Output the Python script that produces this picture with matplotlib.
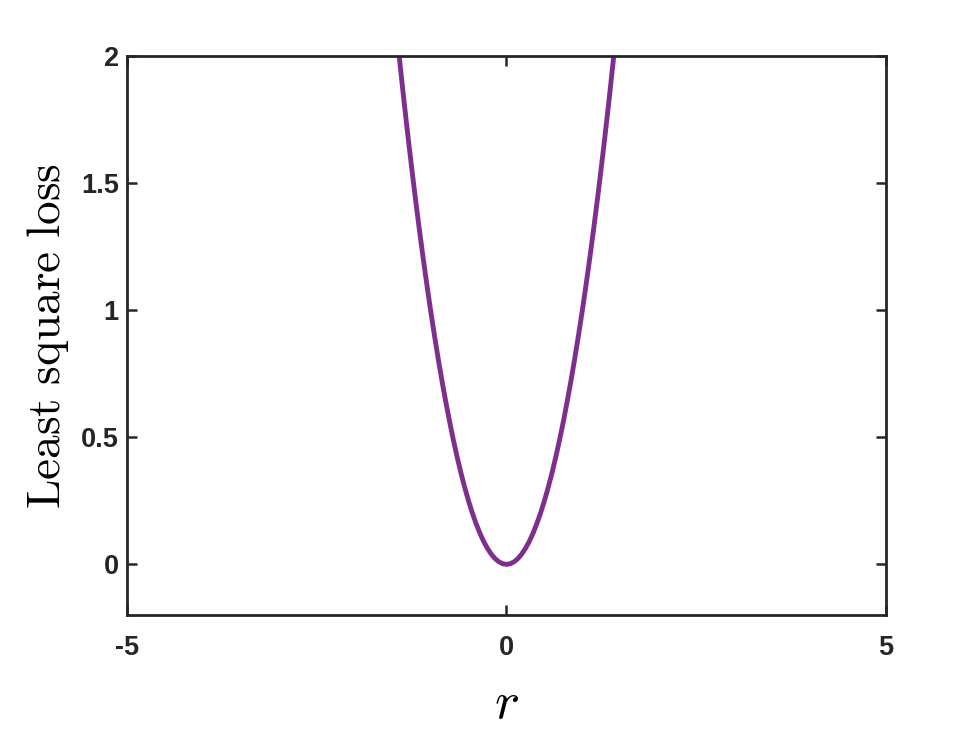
import numpy as np
import matplotlib.pyplot as plt

# values
r = [-1.414, -1.35, -1.3, -1.25, -1.2, -1.15, -1.1, -1.05, -1.0, -0.95, -0.9, -0.85,
     -0.8, -0.75, -0.7, -0.65, -0.6, -0.55, -0.5, -0.45, -0.4, -0.35, -0.3, -0.25,
     -0.2, -0.15, -0.1, -0.05, 0.0, 0.05, 0.1, 0.15, 0.2, 0.25, 0.3, 0.35, 0.4,
     0.45, 0.5, 0.55, 0.6, 0.65, 0.7, 0.75, 0.8, 0.85, 0.9, 0.95, 1.0, 1.05, 1.1,
     1.15, 1.2, 1.25, 1.3, 1.35, 1.414]
loss = [2.0, 1.8225, 1.69, 1.5625, 1.44, 1.3225, 1.21, 1.1025, 1.0, 0.9025, 0.81,
        0.7225, 0.64, 0.5625, 0.49, 0.4225, 0.36, 0.3025, 0.25, 0.2025, 0.16, 0.1225,
        0.09, 0.0625, 0.04, 0.0225, 0.01, 0.0025, 0.0, 0.0025, 0.01, 0.0225, 0.04,
        0.0625, 0.09, 0.1225, 0.16, 0.2025, 0.25, 0.3025, 0.36, 0.4225, 0.49, 0.5625,
        0.64, 0.7225, 0.81, 0.9025, 1.0, 1.1025, 1.21, 1.3225, 1.44, 1.5625, 1.69,
        1.8225, 2.0]

xticks = [-5, 0, 5]
yticks = [0, 0.5, 1, 1.5, 2]

plt.rcParams['font.family'] = 'Liberation Sans'
plt.rcParams['font.weight'] = 'bold'
plt.rcParams['mathtext.fontset'] = 'cm'

fig = plt.figure(figsize=(9.8, 7.35), dpi=100)
ax = fig.add_axes([0.1296, 0.163, 0.7744, 0.7608])
ax.plot(r, loss, color='#7E2F8E', linewidth=3.5)
ax.set_xlim(-5, 5)
ax.set_ylim(-0.2, 2)
ax.set_xticks(xticks)
ax.set_xticklabels(['-5', '0', '5'])
ax.set_yticks(yticks)
ax.set_yticklabels(['0', '0.5', '1', '1.5', '2'])
ax.tick_params(direction='in', length=7, width=1.8, top=True, right=True,
               labelsize=19.5, colors='#262626')
ax.tick_params(axis='x', pad=14)
ax.tick_params(axis='y', pad=6)
for s in ax.spines.values():
    s.set_linewidth(2)
    s.set_color('#262626')
ax.set_xlabel(r'$r$', fontsize=38, labelpad=13)
ax.set_ylabel(r'$\mathrm{Least\ square\ loss}$', fontsize=34, labelpad=7)

fig.savefig('out.png', dpi=100)
